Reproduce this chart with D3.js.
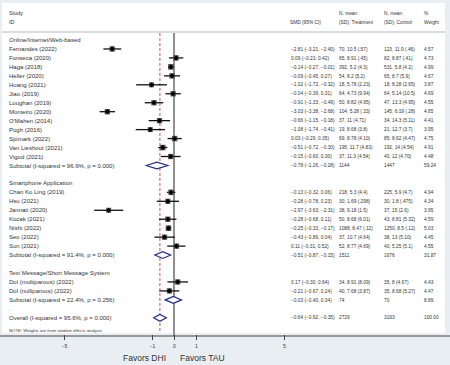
<!DOCTYPE html>
<html>
<head>
<meta charset="utf-8">
<script src="https://cdn.jsdelivr.net/npm/d3@7"></script>
<style>
  html, body { margin: 0; padding: 0; background: #e9eef2; }
  svg { display: block; }
  text { font-family: "Liberation Sans", Arial, sans-serif; fill: #333; }
</style>
</head>
<body>
<svg id="chart" width="450" height="365"></svg>
<script>
// ---------------- data ----------------
const groupNames = ["Online/Internet/Web-based", "Smartphone Application", "Text Message/Short Message System"];
const studyGroup = [0,0,0,0,0,0,0,0,0,0,0,0,0, 1,1,1,1,1,1,1, 2,2];
const studyLabels = [
  "Fernandes (2022)", "Fonseca (2020)", "Haga (2018)", "Heller (2020)", "Huang (2021)",
  "Jiao (2019)", "Loughan (2019)", "Monteiro (2020)", "O'Mahen (2014)", "Pugh (2016)",
  "Sjömark (2022)", "Van Lieshout (2021)", "Vigod (2021)",
  "Chan Ko Ling (2019)", "Hsu (2021)", "Jannati (2020)", "Kocak (2021)", "Nishi (2022)", "Seo (2022)", "Sun (2021)",
  "Dol (multiparous) (2022)", "Dol (nulliparous) (2022)"
];
const smd     = [-2.81, 0.09, -0.14, -0.09, -1.02, -0.04, -0.91, -3.03, -0.66, -1.08, 0.03, -0.51, -0.15,
                 -0.13, -0.28, -2.97, -0.28, -0.25, -0.43, 0.11,  0.17, -0.21];
const ciLow   = [-3.21, -0.23, -0.27, -0.45, -1.72, -0.39, -1.33, -3.38, -1.15, -1.74, -0.29, -0.72, -0.60,
                 -0.32, -0.78, -3.63, -0.68, -0.33, -0.89, -0.31, -0.30, -0.67];
const ciHigh  = [-2.40, 0.42, -0.01, 0.27, -0.32, 0.31, -0.49, -2.68, -0.18, -0.41, 0.35, -0.30, 0.30,
                 0.06, 0.23, -2.31, 0.11, -0.17, 0.04, 0.52,  0.64, 0.24];
const treatText = ["70, 10.5 (.57)", "65, 8.91 (.45)", "392, 5.2 (4.3)", "54, 8.2 (5.2)", "18, 5.78 (2.23)",
  "64, 4.73 (9.94)", "50, 8.82 (4.95)", "104, 5.28 (.33)", "37, 11 (4.71)", "19, 8.68 (3.8)",
  "69, 8.78 (4.10)", "195, 11.7 (4.83)", "37, 11.3 (4.54)",
  "218, 5.3 (4.4)", "30, 1.69 (.298)", "38, 9.18 (1.5)", "50, 8.68 (6.01)", "1088, 8.47 (.12)", "37, 10.7 (4.64)", "52, 8.77 (4.69)",
  "34, 8.91 (8.09)", "40, 7.68 (3.87)"];
const controlText = ["123, 11.9 (.46)", "82, 8.87 (.41)", "531, 5.8 (4.2)", "65, 8.7 (5.9)", "18, 8.28 (2.65)",
  "64, 5.14 (10.5)", "47, 13.3 (4.95)", "145, 6.19 (.28)", "34, 14.3 (5.11)", "21, 12.7 (3.7)",
  "85, 8.62 (4.47)", "192, 14 (4.54)", "40, 12 (4.70)",
  "225, 5.9 (4.7)", "30, 1.8 (.475)", "37, 15 (2.6)", "43, 8.81 (5.32)", "1250, 8.5 (.12)", "38, 13 (5.10)", "40, 5.25 (5.1)",
  "35, 8 (4.67)", "35, 8.68 (5.27)"];
const weights = [4.57, 4.73, 4.99, 4.67, 3.87, 4.69, 4.55, 4.65, 4.41, 3.95, 4.75, 4.91, 4.48,
                 4.94, 4.34, 3.95, 4.59, 5.03, 4.45, 4.55,  4.43, 4.47];

const subtotalLabels = ["Subtotal  (I-squared = 96.9%, p = 0.000)", "Subtotal  (I-squared = 91.4%, p = 0.000)", "Subtotal  (I-squared = 22.4%, p = 0.256)"];
const subtotalSmd  = [-0.78, -0.51, -0.03];
const subtotalLow  = [-1.26, -0.87, -0.40];
const subtotalHigh = [-0.28, -0.15, 0.34];
const subtotalNT   = ["1144", "1511", "74"];
const subtotalNC   = ["1447", "1676", "70"];
const subtotalWeight = ["59.24", "31.87", "8.89"];

const overallLabel = "Overall  (I-squared = 95.6%, p = 0.000)";
const overallSmd = -0.64, overallLow = -0.92, overallHigh = -0.35;
const overallNT = "2729", overallNC = "3193", overallWeight = "100.00";

const xTicks = [-5, -1, 0, 1, 5];
const favorLeft = "Favors DHI", favorRight = "Favors TAU";
const noteText = "NOTE: Weights are from random effects analysis";

// ---------------- layout ----------------
const svg = d3.select("#chart");
const x = d3.scaleLinear().domain([-5, 5]).range([64, 284]);
const nRows = 32;
const y = d3.scaleLinear().domain([0, nRows - 1]).range([40, 317.8]);
const fmt = d3.format(".2f");
const colSMD = 291, colT = 339, colC = 384, colW = 424;

// Build row list
const rows = [];
groupNames.forEach((g, gi) => {
  rows.push({type: "group", label: g});
  studyLabels.forEach((s, i) => {
    if (studyGroup[i] === gi) rows.push({type: "study", i});
  });
  rows.push({type: "subtotal", gi});
  rows.push({type: "blank"});
});
rows.push({type: "overall"});
rows.forEach((r, k) => r.row = k);

// Panel
svg.append("rect").attr("x", 2).attr("y", 3).attr("width", 443).attr("height", 330).attr("fill", "#ffffff");
svg.append("rect").attr("x", 2).attr("y", 31).attr("width", 443).attr("height", 2).attr("fill", "#d9dde0");

// Header
const hdr = svg.append("g").attr("font-size", 5.5);
hdr.append("text").attr("x", 9).attr("y", 15).text("Study");
hdr.append("text").attr("x", 9).attr("y", 24).text("ID");
const hdr2 = svg.append("g").attr("font-size", 4.8);
hdr2.append("text").attr("x", colSMD - 1).attr("y", 24).text("SMD (95% CI)");
hdr2.append("text").attr("x", colT).attr("y", 15).text("N, mean");
hdr2.append("text").attr("x", colT).attr("y", 24).text("(SD); Treatment");
hdr2.append("text").attr("x", colC).attr("y", 15).text("N, mean");
hdr2.append("text").attr("x", colC).attr("y", 24).text("(SD); Control");
hdr2.append("text").attr("x", colW).attr("y", 15).text("%");
hdr2.append("text").attr("x", colW).attr("y", 24).text("Weight");

// Reference lines
svg.append("line").attr("x1", x(0)).attr("x2", x(0)).attr("y1", 33).attr("y2", 336)
  .attr("stroke", "#6b6b6b").attr("stroke-width", 1.5);
svg.append("line").attr("x1", x(overallSmd)).attr("x2", x(overallSmd)).attr("y1", 33).attr("y2", 333)
  .attr("stroke", "#d2373a").attr("stroke-width", 0.9).attr("stroke-dasharray", "3,2");

// Left labels
const lab = svg.append("g").attr("font-size", 6);
const num = svg.append("g").attr("font-size", 4.8);
function labelFor(r) {
  if (r.type === "group") return r.label;
  if (r.type === "study") return studyLabels[r.i];
  if (r.type === "subtotal") return subtotalLabels[r.gi];
  if (r.type === "blank") return ".";
  return overallLabel;
}
lab.selectAll("text").data(rows).join("text")
  .attr("x", 9).attr("y", d => y(d.row)).attr("dy", "0.35em")
  .text(labelFor);

// Numeric columns
const numRows = rows.filter(r => r.type === "study" || r.type === "subtotal" || r.type === "overall");
function cols(r) {
  if (r.type === "study") {
    const i = r.i;
    return [fmt(smd[i]) + " (" + fmt(ciLow[i]) + ", " + fmt(ciHigh[i]) + ")", treatText[i], controlText[i], fmt(weights[i])];
  }
  if (r.type === "subtotal") {
    const g = r.gi;
    return [fmt(subtotalSmd[g]) + " (" + fmt(subtotalLow[g]) + ", " + fmt(subtotalHigh[g]) + ")", subtotalNT[g], subtotalNC[g], subtotalWeight[g]];
  }
  return [fmt(overallSmd) + " (" + fmt(overallLow) + ", " + fmt(overallHigh) + ")", overallNT, overallNC, overallWeight];
}
const colX = [colSMD, colT, colC, colW];
numRows.forEach(r => {
  cols(r).forEach((t, c) => {
    num.append("text").attr("x", colX[c]).attr("y", y(r.row)).attr("dy", "0.35em").text(t);
  });
});

// Study markers
const studyRows = rows.filter(r => r.type === "study");
const marks = svg.append("g");
marks.selectAll("line.ci").data(studyRows).join("line").attr("class", "ci")
  .attr("x1", d => x(ciLow[d.i])).attr("x2", d => x(ciHigh[d.i]))
  .attr("y1", d => y(d.row)).attr("y2", d => y(d.row))
  .attr("stroke", "#111").attr("stroke-width", 1.3);
marks.selectAll("rect.box").data(studyRows).join("rect").attr("class", "box")
  .attr("x", d => x(smd[d.i]) - Math.sqrt(weights[d.i]) * 1.25)
  .attr("y", d => y(d.row) - Math.sqrt(weights[d.i]) * 1.25)
  .attr("width", d => Math.sqrt(weights[d.i]) * 2.5)
  .attr("height", d => Math.sqrt(weights[d.i]) * 2.5)
  .attr("fill", "#555");
marks.selectAll("path.pt").data(studyRows).join("path").attr("class", "pt")
  .attr("d", d => {
    const cx = x(smd[d.i]), cy = y(d.row), r = 2.6;
    return `M${cx - r},${cy}L${cx},${cy - r}L${cx + r},${cy}L${cx},${cy + r}Z`;
  })
  .attr("fill", "#000");

// Diamonds
const diamondRows = rows.filter(r => r.type === "subtotal" || r.type === "overall");
function dPath(r) {
  let c, lo, hi;
  if (r.type === "subtotal") { c = subtotalSmd[r.gi]; lo = subtotalLow[r.gi]; hi = subtotalHigh[r.gi]; }
  else { c = overallSmd; lo = overallLow; hi = overallHigh; }
  const cy = y(r.row), h = 3.4;
  return `M${x(lo)},${cy}L${x(c)},${cy - h}L${x(hi)},${cy}L${x(c)},${cy + h}Z`;
}
svg.append("g").selectAll("path").data(diamondRows).join("path")
  .attr("d", dPath).attr("fill", "#fff").attr("stroke", "#1f2a8f").attr("stroke-width", 1.2);

// Note
svg.append("text").attr("x", 9).attr("y", 330.7).attr("dy", "0.35em").attr("font-size", 4.3).text(noteText);

// Axis
const axisG = svg.append("g").attr("transform", "translate(0,336)");
axisG.append("line").attr("x1", 0).attr("x2", 450).attr("stroke", "#444").attr("stroke-width", 1);
const ax = d3.axisBottom(x).tickValues(xTicks).tickSize(4).tickFormat(d3.format("d"));
const axg = axisG.append("g").call(ax);
axg.select(".domain").remove();
axg.selectAll(".tick line").attr("stroke", "#444").attr("y1", -1);
axg.selectAll(".tick text").attr("font-size", 5).attr("fill", "#333").attr("y", 8)
  .attr("font-family", "'Liberation Sans', Arial, sans-serif");

svg.append("text").attr("x", 166).attr("y", 361).attr("text-anchor", "end").attr("font-size", 8.5).attr("fill", "#444").text(favorLeft);
svg.append("text").attr("x", 180).attr("y", 361).attr("text-anchor", "start").attr("font-size", 8.5).attr("fill", "#444").text(favorRight);
</script>
</body>
</html>
